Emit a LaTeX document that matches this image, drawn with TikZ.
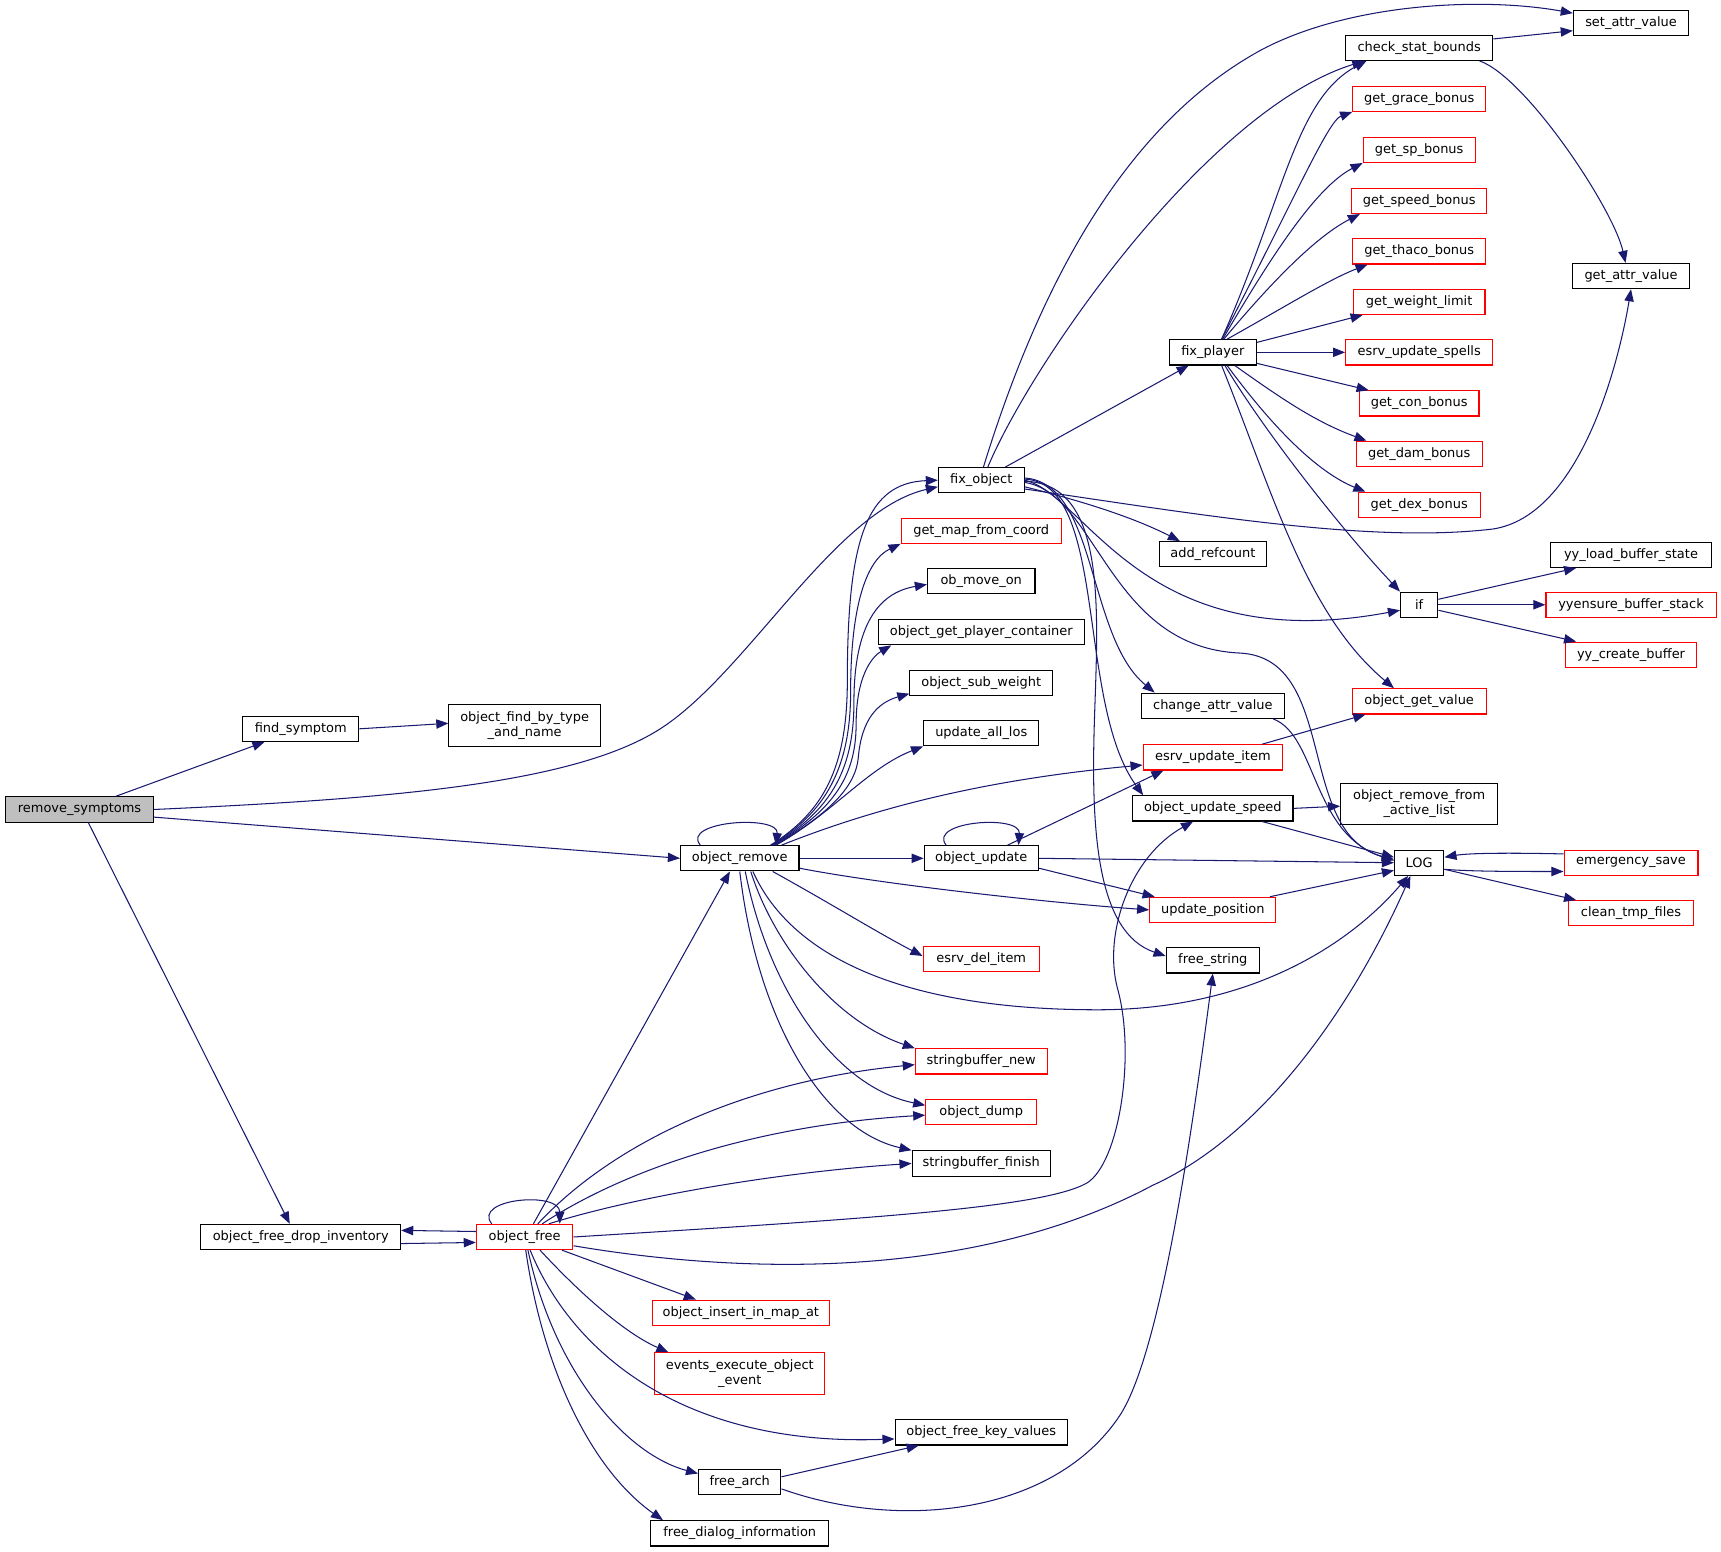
\documentclass[tikz,border=0pt]{standalone}
\usepackage{fontspec}
\setmainfont{DejaVu Sans}
\usetikzlibrary{arrows.meta}
\definecolor{edgeblue}{HTML}{191970}
\definecolor{rootgray}{HTML}{BFBFBF}
\newcommand{\fnfont}{\fontsize{11.8}{13.6}\selectfont}
\tikzset{
  fn/.style={draw=black, line width=1pt, minimum height=23pt, inner xsep=3pt, inner ysep=2pt, font=\fnfont, align=center},
  fnred/.style={fn, draw=red},
  root/.style={fn, fill=rootgray},
  call/.style={draw=edgeblue, line width=0.95pt, -{Triangle[length=11pt,width=8.5pt]}}
}
\begin{document}
\begin{tikzpicture}[x=1pt,y=-1pt]
\useasboundingbox (0,0) rectangle (1568,1414);

\node[root, minimum width=135pt] (rs) at (72.5,737.5) {remove\_symptoms};
\node[fn, minimum width=106pt] (fs) at (274,664) {find\_symptom};
\node[fn, minimum width=138pt, minimum height=38pt] (ofbt) at (478,661) {object\_find\_by\_type\\\_and\_name};
\node[fn, minimum width=182pt] (ofdi) at (274,1127) {object\_free\_drop\_inventory};
\node[fn, minimum width=108pt] (orm) at (674,782) {object\_remove};
\node[fnred, minimum width=88pt] (ofr) at (478,1127) {object\_free};

\node[fn, minimum width=78pt] (fxo) at (894,437.5) {fix\_object};
\node[fnred, minimum width=146pt] (gmfc) at (894,483.5) {get\_map\_from\_coord};
\node[fn, minimum width=98pt] (omo) at (894,529.5) {ob\_move\_on};
\node[fn, minimum width=188pt] (ogpc) at (894,576) {object\_get\_player\_container};
\node[fn, minimum width=130pt] (osw) at (894,622) {object\_sub\_weight};
\node[fn, minimum width=105pt] (ual) at (894,668) {update\_all\_los};
\node[fn, minimum width=104pt] (oup) at (894,782) {object\_update};
\node[fnred, minimum width=106pt] (edi) at (894,874) {esrv\_del\_item};
\node[fnred, minimum width=120pt] (sbn) at (894,967) {stringbuffer\_new};
\node[fnred, minimum width=101pt] (odu) at (894,1013) {object\_dump};
\node[fn, minimum width=126pt] (sbf) at (894,1060) {stringbuffer\_finish};
\node[fnred, minimum width=161pt] (oima) at (675,1196) {object\_insert\_in\_map\_at};
\node[fnred, minimum width=155pt, minimum height=38pt] (eeoe) at (674,1251.5) {events\_execute\_object\\\_event};
\node[fn, minimum width=157pt] (ofkv) at (894,1305) {object\_free\_key\_values};
\node[fn, minimum width=75pt] (fa) at (674,1350.5) {free\_arch};
\node[fn, minimum width=162pt] (fdi) at (674,1397) {free\_dialog\_information};

\node[fn, minimum width=79pt] (fxp) at (1105,321) {fix\_player};
\node[fn, minimum width=97pt] (arc) at (1105,505) {add\_refcount};
\node[fn, minimum width=130pt] (cav) at (1105,643) {change\_attr\_value};
\node[fnred, minimum width=127pt] (eui) at (1105,690) {esrv\_update\_item};
\node[fn, minimum width=146pt] (ous) at (1105,736.5) {object\_update\_speed};
\node[fnred, minimum width=115pt] (upo) at (1105,829) {update\_position};
\node[fn, minimum width=85pt] (fst) at (1105,875) {free\_string};

\node[fn, minimum width=134pt] (csb) at (1293,43.5) {check\_stat\_bounds};
\node[fnred, minimum width=121pt] (ggb) at (1293,90) {get\_grace\_bonus};
\node[fnred, minimum width=102pt] (gsp) at (1293,136.5) {get\_sp\_bonus};
\node[fnred, minimum width=123pt] (gspd) at (1293,183) {get\_speed\_bonus};
\node[fnred, minimum width=121pt] (gtb) at (1293,229) {get\_thaco\_bonus};
\node[fnred, minimum width=120pt] (gwl) at (1293,275) {get\_weight\_limit};
\node[fnred, minimum width=134pt] (eus) at (1293,321) {esrv\_update\_spells};
\node[fnred, minimum width=109pt] (gcb) at (1293,367.5) {get\_con\_bonus};
\node[fnred, minimum width=115pt] (gdb) at (1293,413.5) {get\_dam\_bonus};
\node[fnred, minimum width=111pt] (gdxb) at (1293,460) {get\_dex\_bonus};
\node[fn, minimum width=34pt] (ifn) at (1293,551) {if};
\node[fnred, minimum width=122pt] (ogv) at (1293,639) {object\_get\_value};
\node[fn, minimum width=143pt, minimum height=38pt] (orfal) at (1293,732.5) {object\_remove\_from\\\_active\_list};
\node[fn, minimum width=45pt] (log) at (1293,786) {LOG};

\node[fn, minimum width=105pt] (sav) at (1486,21) {set\_attr\_value};
\node[fn, minimum width=106pt] (gav) at (1486,251.5) {get\_attr\_value};
\node[fn, minimum width=146pt] (ylbs) at (1486,505.5) {yy\_load\_buffer\_state};
\node[fnred, minimum width=155pt] (yebs) at (1486,551) {yyensure\_buffer\_stack};
\node[fnred, minimum width=119pt] (ycb) at (1486,596.5) {yy\_create\_buffer};
\node[fnred, minimum width=122pt] (esv) at (1486,786) {emergency\_save};
\node[fnred, minimum width=114pt] (ctf) at (1486,832) {clean\_tmp\_files};

% remove_symptoms
\draw[call] ([xshift=33pt]rs.north) -- ([xshift=-33pt]fs.south);
\draw[call] (fs.east) -- ([yshift=2pt]ofbt.west);
\draw[call] (rs.east) .. controls (350,728) and (520,715) .. (600,665) .. controls (680,615) and (760,465) .. ([yshift=-6pt]fxo.west);
\draw[call] ([yshift=-7pt]rs.east) -- (orm.west);
\draw[call] ([xshift=8pt]rs.south) -- ([xshift=-10pt]ofdi.north);

% object_free
\draw[call] ([yshift=-6pt]ofdi.east) -- ([yshift=-5pt]ofr.west);
\draw[call] ([yshift=5pt]ofr.west) -- ([yshift=6pt]ofdi.east);
\draw[call] ([xshift=-30pt]ofr.north) .. controls (430,1092) and (510,1085) .. ([xshift=32pt]ofr.north);
\draw[call] ([xshift=8pt]ofr.north) -- ([xshift=-9pt]orm.south);
\draw[call] ([xshift=12pt]ofr.north) .. controls (560,1040) and (680,985) .. ([yshift=-3pt]sbn.west);
\draw[call] ([xshift=16pt]ofr.north) .. controls (570,1065) and (690,1025) .. ([yshift=-3pt]odu.west);
\draw[call] ([xshift=22pt]ofr.north) .. controls (580,1090) and (710,1068) .. (sbf.west);
\draw[call] (ofr.east) .. controls (800,1110) and (950,1100) .. (990,1078) .. controls (1020,1060) and (1035,960) .. (1018,900) .. controls (1005,850) and (1030,780) .. ([xshift=-18pt]ous.south);
\draw[call] ([yshift=-8pt]ofr.east) .. controls (700,1165) and (900,1160) .. (1050,1080) .. controls (1160,1030) and (1240,900) .. ([xshift=-8pt]log.south);
\draw[call] ([xshift=34pt]ofr.south) -- ([xshift=-41pt]oima.north);
\draw[call] ([xshift=14pt]ofr.south) .. controls (530,1180) and (570,1215) .. ([xshift=-65pt]eeoe.north);
\draw[call] ([xshift=5pt]ofr.south) .. controls (520,1230) and (620,1318) .. ([yshift=-6pt]ofkv.west);
\draw[call] ([xshift=3pt]ofr.south) .. controls (505,1250) and (570,1325) .. ([yshift=8pt]fa.west);
\draw[call] ([xshift=1pt]ofr.south) .. controls (495,1250) and (540,1340) .. ([xshift=-70pt]fdi.north);
\draw[call] ([yshift=5pt]fa.east) -- ([xshift=-57pt]ofkv.south);
\draw[call] ([yshift=-6pt]fa.east) .. controls (820,1395) and (960,1380) .. (1020,1290) .. controls (1060,1230) and (1090,1000) .. (fst.south);

% object_remove
\draw[call] ([xshift=-36pt]orm.north) .. controls (620,748) and (710,742) .. ([xshift=33pt]orm.north);
\draw[call] ([xshift=28pt]orm.north) .. controls (750,740) and (772,700) .. (772,620) .. controls (772,490) and (790,440) .. (fxo.west);
\draw[call] ([xshift=29pt]orm.north) .. controls (752,740) and (775,700) .. (775,630) .. controls (775,550) and (790,510) .. (gmfc.south west);
\draw[call] ([xshift=30pt]orm.north) .. controls (754,740) and (778,705) .. (778,640) .. controls (778,570) and (800,540) .. ([yshift=-3pt]omo.west);
\draw[call] ([xshift=31pt]orm.north) .. controls (756,740) and (780,710) .. (780,660) .. controls (780,615) and (795,598) .. ([xshift=-82pt]ogpc.south);
\draw[call] ([xshift=32pt]orm.north) .. controls (758,740) and (780,715) .. (782,690) .. controls (785,655) and (800,640) .. ([yshift=2pt]osw.south west);
\draw[call] ([xshift=33pt]orm.north) .. controls (760,740) and (790,700) .. (ual.south west);
\draw[call] ([xshift=38pt]orm.north) .. controls (800,735) and (900,710) .. ([yshift=-7pt]eui.west);
\draw[call] (orm.east) -- (oup.west);
\draw[call] ([yshift=-9pt]orm.east) .. controls (800,805) and (950,822) .. (upo.west);
\draw[call] ([xshift=30pt]orm.south) .. controls (760,825) and (800,850) .. ([yshift=3pt]edi.west);
\draw[call] ([xshift=12pt]orm.south) .. controls (720,870) and (820,920) .. (1000,920) .. controls (1140,920) and (1230,860) .. ([xshift=-10pt]log.south);
\draw[call] ([xshift=10pt]orm.south) .. controls (705,860) and (760,930) .. (sbn.north west);
\draw[call] ([xshift=5pt]orm.south) .. controls (700,900) and (760,990) .. ([yshift=6pt]odu.west);
\draw[call] (orm.south) .. controls (690,930) and (750,1030) .. (sbf.north west);

% object_update
\draw[call] ([xshift=-32pt]oup.north) .. controls (845,748) and (930,742) .. ([xshift=34pt]oup.north);
\draw[call] ([xshift=24pt]oup.north) -- ([xshift=-45pt]eui.south);
\draw[call] (oup.east) -- (log.west);
\draw[call] ([yshift=-9pt]oup.east) -- ([xshift=5pt]upo.north west);

% fix_object
\draw[call] ([xshift=6pt]fxo.north) .. controls (940,330) and (1100,100) .. ([xshift=-50pt]csb.south);
\draw[call] ([xshift=2pt]fxo.north) .. controls (950,250) and (1030,110) .. (1150,45) .. controls (1230,3) and (1350,-3) .. ([yshift=9pt]sav.west);
\draw[call] ([xshift=22pt]fxo.north) -- ([xshift=-22pt]fxp.south);
\draw[call] ([yshift=-6pt]fxo.east) .. controls (980,455) and (1030,470) .. ([xshift=-30pt]arc.north);
\draw[call] ([yshift=-8pt]fxo.east) .. controls (1100,470) and (1250,495) .. (1360,482) .. controls (1440,470) and (1475,330) .. (gav.south);
\draw[call] (fxo.east) .. controls (990,450) and (1040,600) .. ([yshift=-5pt]ifn.west);
\draw[call] ([yshift=-2pt]fxo.east) .. controls (1000,450) and (1010,590) .. (1130,595) .. controls (1220,600) and (1180,760) .. ([yshift=3pt]log.west);
\draw[call] ([yshift=2pt]fxo.east) .. controls (1000,440) and (990,580) .. ([xshift=-53pt]cav.north);
\draw[call] ([yshift=1pt]fxo.east) .. controls (1010,440) and (980,640) .. ([xshift=10pt]ous.north west);
\draw[call] ([yshift=-1pt]fxo.east) .. controls (1010,440) and (1000,560) .. (997,660) .. controls (994,760) and (1000,850) .. ([yshift=4pt]fst.west);

% fix_player
\draw[call] ([xshift=8pt]fxp.north) .. controls (1170,180) and (1180,90) .. ([xshift=-48pt]csb.south);
\draw[call] ([xshift=8pt]fxp.north) .. controls (1180,180) and (1210,110) .. (ggb.south west);
\draw[call] ([xshift=9pt]fxp.north) .. controls (1160,230) and (1200,170) .. (gsp.south west);
\draw[call] ([xshift=10pt]fxp.north) .. controls (1160,255) and (1200,215) .. ([xshift=8pt]gspd.south west);
\draw[call] ([xshift=13pt]fxp.north) .. controls (1170,280) and (1210,255) .. ([xshift=14pt]gtb.south west);
\draw[call] ([yshift=9pt]fxp.east) -- ([xshift=9pt]gwl.south west);
\draw[call] (fxp.east) -- (eus.west);
\draw[call] ([yshift=-10pt]fxp.east) -- ([xshift=9pt]gcb.north west);
\draw[call] ([xshift=20pt]fxp.south) .. controls (1170,365) and (1200,385) .. ([xshift=10pt]gdb.north west);
\draw[call] ([xshift=13pt]fxp.south) .. controls (1160,390) and (1200,430) .. ([xshift=7pt]gdxb.north west);
\draw[call] ([xshift=11pt]fxp.south) .. controls (1150,390) and (1220,480) .. (ifn.north west);
\draw[call] ([xshift=8pt]fxp.south) .. controls (1160,450) and (1190,560) .. ([xshift=-23pt]ogv.north);

% right part
\draw[call] ([yshift=8pt]csb.east) -- ([yshift=-7pt]sav.west);
\draw[call] ([xshift=55pt]csb.south) .. controls (1390,70) and (1470,190) .. ([xshift=-5pt]gav.north);
\draw[call] ([xshift=55pt]cav.south) .. controls (1200,670) and (1195,760) .. ([yshift=2pt]log.west);
\draw[call] ([xshift=45pt]eui.north) -- ([xshift=-49pt]ogv.south);
\draw[call] (ous.east) -- ([yshift=-2pt]orfal.west);
\draw[call] ([xshift=45pt]ous.south) -- ([yshift=5pt]log.west);
\draw[call] ([xshift=52pt]upo.north) -- ([yshift=-7pt]log.west);
\draw[call] ([yshift=5pt]ifn.east) -- ([xshift=-50pt]ylbs.south);
\draw[call] (ifn.east) -- (yebs.west);
\draw[call] ([yshift=-5pt]ifn.east) -- ([xshift=-50pt]ycb.north);
\draw[call] ([yshift=-6pt]log.east) .. controls (1340,794) and (1380,794) .. ([yshift=-8pt]esv.west);
\draw[call] ([yshift=8pt]esv.west) .. controls (1380,777) and (1340,777) .. ([yshift=5pt]log.east);
\draw[call] ([yshift=-6pt]log.east) -- ([xshift=-50pt]ctf.north);

\end{tikzpicture}
\end{document}
